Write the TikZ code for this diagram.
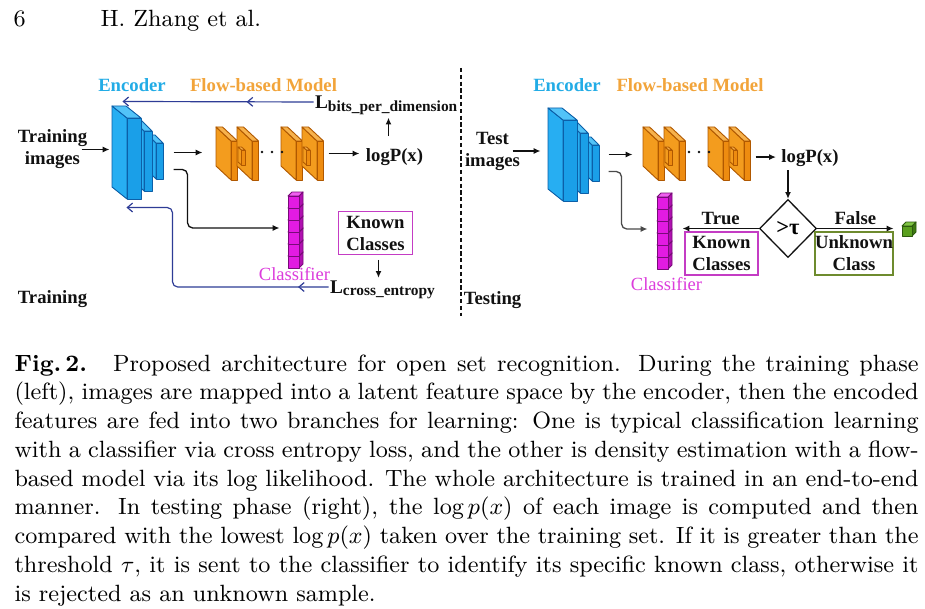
\documentclass[tikz,border=0pt]{standalone}
\usepackage{fontspec}
\usetikzlibrary{arrows.meta,shapes.geometric,fit,calc,decorations.markings}
\newfontfamily\diafont{Liberation Serif}
\definecolor{ink}{HTML}{111111}
\definecolor{encfront}{HTML}{1A9FE8}
\definecolor{encside}{HTML}{27AEF2}
\definecolor{enctop}{HTML}{52C3F8}
\definecolor{encedge}{HTML}{0C5FA8}
\definecolor{flowfront}{HTML}{EE8C10}
\definecolor{flowside}{HTML}{F39C1E}
\definecolor{flowtop}{HTML}{F7B24C}
\definecolor{flowedge}{HTML}{B05800}
\definecolor{clsfront}{HTML}{E21BE2}
\definecolor{clsside}{HTML}{B010B0}
\definecolor{clstop}{HTML}{F060F0}
\definecolor{clsedge}{HTML}{780A78}
\definecolor{cubefront}{HTML}{5AA01E}
\definecolor{cubeside}{HTML}{3E7A12}
\definecolor{cubetop}{HTML}{80C444}
\definecolor{cubeedge}{HTML}{2D5A0E}
\definecolor{enctext}{HTML}{22ACE6}
\definecolor{flowtext}{HTML}{F2A43A}
\definecolor{clstext}{HTML}{DC3CDC}
\definecolor{knownline}{HTML}{C43CC4}
\definecolor{unkline}{HTML}{6E8B2E}
\definecolor{navy}{HTML}{2E3C96}
\definecolor{curvegray}{HTML}{4A4A4A}
\newcommand{\layerleft}[7]{%
  \filldraw[layer, draw=#7edge, fill=#7side] (#1,#2) -- ({#1-#5},{#2-#6}) -- ({#1-#5},{#2+#4-#6}) -- (#1,{#2+#4}) -- cycle;
  \filldraw[layer, draw=#7edge, fill=#7top] (#1,#2) -- ({#1-#5},{#2-#6}) -- ({#1+#3-#5},{#2-#6}) -- ({#1+#3},#2) -- cycle;
  \filldraw[layer, draw=#7edge, fill=#7front] (#1,#2) rectangle ({#1+#3},{#2+#4});}
\newcommand{\cuberight}[7]{%
  \filldraw[layer, draw=#7edge, fill=#7side] ({#1+#3},#2) -- ({#1+#3+#5},{#2-#6}) -- ({#1+#3+#5},{#2+#4-#6}) -- ({#1+#3},{#2+#4}) -- cycle;
  \filldraw[layer, draw=#7edge, fill=#7top] (#1,#2) -- ({#1+#5},{#2-#6}) -- ({#1+#3+#5},{#2-#6}) -- ({#1+#3},#2) -- cycle;
  \filldraw[layer, draw=#7edge, fill=#7front] (#1,#2) rectangle ({#1+#3},{#2+#4});}
\newcommand{\lossname}[2]{{\fontsize{7.4}{8}\selectfont#1}\raisebox{-1.1pt}{\fontsize{5.9}{6}\selectfont#2}}
\tikzset{
  layer/.style={line width=0.35pt, line join=round},
  lbl/.style={font=\diafont\bfseries\fontsize{7.15}{8.4}\selectfont, align=center, inner sep=0pt, text=ink},
  ttlenc/.style={lbl, text=enctext},
  ttlflow/.style={lbl, text=flowtext},
  clslbl/.style={font=\diafont\fontsize{7.1}{8}\selectfont, inner sep=0pt, text=clstext},
  knownbox/.style={lbl, draw=knownline, line width=0.45pt, minimum width=28.6pt, minimum height=16.2pt},
  unkbox/.style={knownbox, draw=unkline},
  decision/.style={diamond, draw=ink, line width=0.5pt, minimum width=21.8pt, minimum height=22.2pt, inner sep=0pt, font=\diafont\bfseries\fontsize{8.6}{9}\selectfont},
  hull/.style={inner sep=0pt},
  pagetext/.style={font=\fontsize{9}{11}\selectfont, inner sep=0pt},
  caption/.style={pagetext, text width=345.9pt, align=justify},
  arrow/.style={-{Latex[length=2.6pt,width=2.3pt]}, line width=0.5pt, draw=ink},
  grayarrow/.style={arrow, draw=curvegray},
  bluearrow/.style={-{Straight Barb[length=2pt,width=3.4pt]}, line width=0.45pt, draw=navy},
  midtip/.style={postaction={decorate, decoration={markings, mark=at position #1 with {\arrow{Straight Barb[length=2pt,width=3.4pt]}}}}},
  pics/encoder/.style={code={
    \layerleft{29}{25}{7}{36}{8}{8}{enc}
    \layerleft{17}{13}{8}{60}{12}{12}{enc}
    \layerleft{0}{0}{14}{81}{15}{12}{enc}
    \coordinate (-nw) at (-15,-13); \coordinate (-se) at (37,82);}},
  pics/flowmodel/.style={code={
    \foreach \s in {0,65}{
      \layerleft{\s}{0}{6.5}{39}{15}{14}{flow}
      \layerleft{21+\s}{0}{6.5}{39}{15}{14}{flow}
      \layerleft{10.5+\s}{9}{3.5}{15}{3.5}{3}{flow}}
    \foreach \p in {31,41,51} \fill[ink] (\p,11) circle[radius=1.4];
    \coordinate (-nw) at (-15,-14); \coordinate (-se) at (94,39);}},
  pics/classifier/.style={code={
    \foreach \k in {5,4,...,0}{\cuberight{0}{12*\k}{11}{12}{4}{4}{cls}}
    \coordinate (-nw) at (0,-4); \coordinate (-se) at (15,72);}},
  pics/outcube/.style={code={
    \cuberight{0}{0}{10}{10}{4}{4}{cube}
    \coordinate (-nw) at (0,-4); \coordinate (-se) at (14,10);}}
}
\begin{document}
\begin{tikzpicture}[x=0.3826pt, y=-0.3826pt]
\path[use as bounding box, fill=white] (0,0) rectangle (925,608);
\node[pagetext, anchor=base west] (pgno) at (13,27) {6};
\node[pagetext, anchor=base west] (runhead) at (100,27) {H. Zhang et al.};
\pic (encL) at (127,118) {encoder}; \pic (flowL) at (231,141) {flowmodel}; \pic (clsL) at (288,196) {classifier};
\pic (encR) at (563,120) {encoder}; \pic (flowR) at (658,141) {flowmodel}; \pic (clsR) at (657,197) {classifier}; \pic (outR) at (902,226) {outcube};
\node[hull, fit=(encL-nw)(encL-se)] (encLbox) {}; \node[hull, fit=(flowL-nw)(flowL-se)] (flowLbox) {}; \node[hull, fit=(clsL-nw)(clsL-se)] (clsLbox) {};
\node[hull, fit=(encR-nw)(encR-se)] (encRbox) {}; \node[hull, fit=(flowR-nw)(flowR-se)] (flowRbox) {}; \node[hull, fit=(clsR-nw)(clsR-se)] (clsRbox) {}; \node[hull, fit=(outR-nw)(outR-se)] (outRbox) {};
\node[ttlenc, anchor=base] (encttlL) at (132,91.5) {Encoder};
\node[ttlflow, anchor=base] (flowttlL) at (263.5,91.5) {Flow-based Model};
\node[lbl] (trainimg) at (52.5,149.5) {Training\\images};
\node[lbl, anchor=base] (logPL) at (394.5,161.5) {logP(x)};
\node[lbl, anchor=base west] (Lbits) at (314.5,109) {\lossname{L}{bits\_per\_dimension}};
\node[knownbox] (knownL) at (375.5,233) {Known\\Classes};
\node[lbl, anchor=base west] (Lce) at (329.5,293) {\lossname{L}{cross\_entropy}};
\node[clslbl, anchor=base] (clstxtL) at (294.5,280) {Classifier};
\node[lbl, anchor=base] (trainlbl) at (52.5,303) {Training};
\node[ttlenc, anchor=base] (encttlR) at (567,92) {Encoder};
\node[ttlflow, anchor=base] (flowttlR) at (690,92) {Flow-based Model};
\node[lbl] (testimg) at (492.5,151) {Test\\images};
\node[lbl, anchor=base] (logPR) at (810,162.5) {logP(x)};
\node[decision] (dec) at (788,228.5) {>τ};
\node[knownbox, minimum width=27.9pt, minimum height=16.5pt] (knownR) at (721.5,253.5) {Known\\Classes};
\node[unkbox, minimum width=28.3pt, minimum height=16.5pt] (unkR) at (854,253.5) {Unknown\\Class};
\node[clslbl, anchor=base] (clstxtR) at (666.5,290) {Classifier};
\node[lbl, anchor=base] (testlbl) at (492.5,304) {Testing};
\draw[ink, line width=0.45pt, dash pattern=on 1.6pt off 1pt] (461,68) -- (461,316);
\draw[arrow] ($(trainimg.east)+(-6,0)$) -- ($(trainimg.east -| encLbox.west)+(-2,0)$);
\draw[arrow] ($(encLbox.east)+(9,0)$) -- ($(encLbox.east -| flowLbox.west)+(-13,0)$);
\draw[arrow] ($(flowLbox.east)+(3,0)$) -- ($(flowLbox.east -| logPL.west)+(-6,0)$);
\coordinate (upL) at ($(logPL.north)+(-6,-12)$); \draw[arrow] (upL) -- ($(upL |- Lbits.south)+(0,2)$);
\draw[bluearrow, midtip=0.35] ($(Lbits.base west)+(-1,-7)$) -- ($(encLbox.north west)+(11,-3)$);
\draw[arrow, rounded corners=2pt] ($(encLbox.east)+(9,17)$) -- ++(14,0) |- ($(clsLbox.west)+(-8,-2)$);
\draw[arrow] ($(knownL.south)+(3,5)$) -- ($(knownL.south |- Lce.north)+(3,-2)$);
\draw[bluearrow, midtip=0.11, rounded corners=2pt] ($(Lce.base west)+(-1,-6)$) -- ++(-156,0) |- ($(encLbox.south west)+(15,7)$);
\draw[arrow] ($(testimg.east)+(-8,0)$) -- ($(testimg.east -| encRbox.west)+(-7,0)$);
\draw[arrow] ($(encRbox.east)+(8,0)$) -- ($(encRbox.east -| flowRbox.west)+(-10,0)$);
\draw[arrow] ($(logPR.west -| flowRbox.east)+(3,-1)$) -- ($(logPR.west)+(-5,-1)$);
\draw[arrow] ($(dec.north |- logPR.south)+(0,3)$) -- (dec.north);
\draw[grayarrow, rounded corners=2pt] ($(encRbox.east)+(8,17)$) -- ++(13,0) |- ($(clsRbox.west)+(-9,-2)$);
\draw[arrow] (dec.west) -- node[lbl, above=1.2pt] (truelbl) {True} ($(dec.west -| clsRbox.east)+(10,0)$);
\draw[arrow] (dec.east) -- node[lbl, above=1.2pt] (falselbl) {False} ($(dec.east -| outRbox.west)+(-8,0)$);
\node[caption, anchor=base west] (cap) at (14,371) {\textbf{Fig.\,2.}\hspace{10pt}Proposed architecture for open set recognition. During the training phase\linebreak
(left), images are mapped into a latent feature space by the encoder, then the encoded\linebreak
features are fed into two branches for learning: One is typical classification learning\linebreak
with a classifier via cross entropy loss, and the other is density estimation with a flow-\linebreak
based model via its log likelihood. The whole architecture is trained in an end-to-end\linebreak
manner. In testing phase (right), the $\log p(x)$ of each image is computed and then\linebreak
compared with the lowest $\log p(x)$ taken over the training set. If it is greater than the\linebreak
threshold $\tau$, it is sent to the classifier to identify its specific known class, otherwise it\linebreak
is rejected as an unknown sample.};
\end{tikzpicture}
\end{document}
